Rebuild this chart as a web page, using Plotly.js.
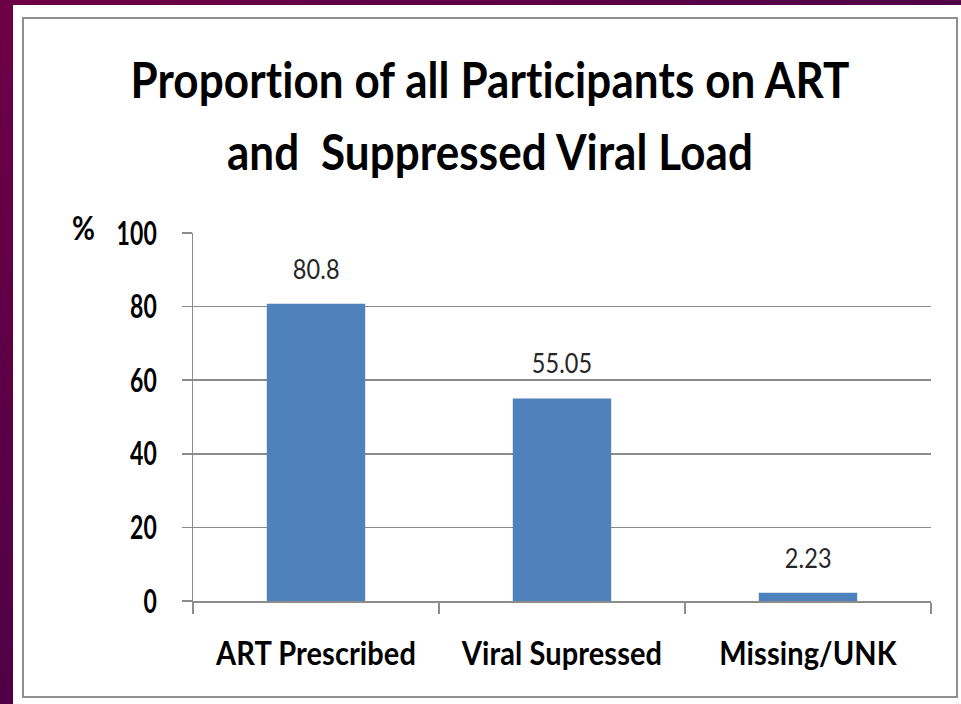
<!DOCTYPE html>
<html>
<head>
<meta charset="utf-8">
<script src="https://cdn.plot.ly/plotly-3.0.1.min.js"></script>
<style>
  html, body { margin: 0; padding: 0; width: 961px; height: 704px; overflow: hidden;
    background: linear-gradient(to bottom right, #6e0045 0%, #4a0048 60%, #3c004a 100%); }
  #chart { width: 961px; height: 704px; }
  #chart svg text, #chart svg tspan {
    font-variant-ligatures: none !important;
    font-feature-settings: "liga" 0, "clig" 0, "dlig" 0 !important;
    letter-spacing: 0.1px;
  }
</style>
</head>
<body>
<div id="chart"></div>
<script>
const categories = ["ART Prescribed", "Viral Supressed", "Missing/UNK"];
const values = [80.8, 55.05, 2.23];
const valueLabels = ["80.8", "55.05", "2.23"];
const yTickVals = [0, 20, 40, 60, 80, 100];
const yTickText = ["0", "20", "40", "60", "80", "100"];
const titleLines = ["Proportion of all Participants on ART", "and\u00a0 Suppressed Viral Load"];
const yUnit = "%";

// plot area in pixels
const L = 193, R = 931, T = 233, B = 601, W = 961, H = 704;
const px = v => (v - L) / (R - L);
const py = v => (B - v) / (B - T);

const FONT = "Lato, 'Open Sans', sans-serif";

const trace = {
  type: "bar",
  x: categories,
  y: values,
  width: 0.4,
  marker: { color: "#4F81BD" },
  hoverinfo: "skip"
};

const annotations = categories.map((c, i) => ({
  x: c, y: values[i], xref: "x", yref: "y",
  text: valueLabels[i], showarrow: false,
  yanchor: "bottom", yshift: 18,
  font: { family: FONT, size: 23.5, color: "#262626" }
}));
annotations.push({
  xref: "paper", yref: "paper", x: px(83), y: py(229),
  text: yUnit, showarrow: false, xanchor: "center", yanchor: "middle",
  font: { family: FONT, size: 28, color: "#000", weight: 700 }
});

const layout = {
  width: W, height: H,
  margin: { l: L, r: W - R, t: T, b: H - B, pad: 0 },
  paper_bgcolor: "rgba(0,0,0,0)",
  plot_bgcolor: "rgba(0,0,0,0)",
  showlegend: false,
  title: {
    text: titleLines.join("<br>"),
    xref: "container", yref: "container",
    x: 490 / W, xanchor: "center",
    y: 1 - 58 / H, yanchor: "top",
    font: { family: FONT, size: 44, color: "#000", weight: 700 }
  },
  xaxis: {
    type: "category",
    showline: true, linecolor: "#8c8c8c", linewidth: 1.5,
    ticks: "outside", tickson: "boundaries", ticklen: 11, tickcolor: "#8c8c8c", tickwidth: 1.5,
    showgrid: false, zeroline: false,
    tickfont: { family: FONT, size: 29, color: "#000", weight: 700 },
    ticklabelstandoff: 24,
    fixedrange: true
  },
  yaxis: {
    range: [0, 100],
    tickvals: yTickVals, ticktext: yTickText,
    showline: true, linecolor: "#8c8c8c", linewidth: 1.5,
    ticks: "outside", ticklen: 10, tickcolor: "#8c8c8c", tickwidth: 1.5,
    showgrid: true, gridcolor: "#8c8c8c", gridwidth: 1.5,
    zeroline: false,
    tickfont: { family: FONT, size: 23, color: "#000", weight: 700 },
    ticklabelstandoff: 20,
    fixedrange: true
  },
  shapes: [
    { type: "rect", xref: "paper", yref: "paper", layer: "below",
      x0: px(13), x1: px(W + 5), y0: py(H + 5), y1: py(5),
      fillcolor: "#ffffff", line: { width: 0 } },
    { type: "rect", xref: "paper", yref: "paper", layer: "below",
      x0: px(23), x1: px(957), y0: py(697), y1: py(18),
      fillcolor: "rgba(0,0,0,0)", line: { color: "#8f8f8f", width: 2 } }
  ],
  annotations: annotations
};

// Stretch text vertically (the reference text is tall and narrow).
function stretch(el, s, anchorLocal, targetScreen) {
  const ctm = el.getCTM();
  const cur = ctm.f + ctm.d * anchorLocal;
  const tgt = (targetScreen == null) ? cur : targetScreen;
  const existing = el.getAttribute("transform") || "";
  el.setAttribute("transform",
    existing + " translate(0," + ((tgt - ctm.f) / ctm.d) + ") scale(1," + s + ") translate(0," + (-anchorLocal) + ")");
}
function baseline(el) {
  try { return el.getStartPositionOfChar(0).y; } catch (e) { const b = el.getBBox(); return b.y + b.height * 0.78; }
}

Plotly.newPlot("chart", [trace], layout, { displayModeBar: false, staticPlot: true }).then(gd => {
  const t = gd.querySelector(".gtitle");
  if (t) {
    const s = 1.15;
    const lines = t.querySelectorAll("tspan.line");
    lines.forEach((ln, i) => { if (i > 0) { ln.removeAttribute("y"); ln.setAttribute("dy", String(72 / s)); } });
    stretch(t, s, baseline(t), 98);
  }
  gd.querySelectorAll(".xtick text").forEach(el => stretch(el, 1.1, baseline(el), 665));
  gd.querySelectorAll(".ytick text").forEach(el => stretch(el, 1.42, baseline(el) - 0.36 * 23, null));
  gd.querySelectorAll(".annotation-text").forEach(el => {
    const b = baseline(el);
    const isUnit = el.textContent === yUnit;
    stretch(el, isUnit ? 1.15 : 1.12, b, null);
  });
});
</script>
</body>
</html>
